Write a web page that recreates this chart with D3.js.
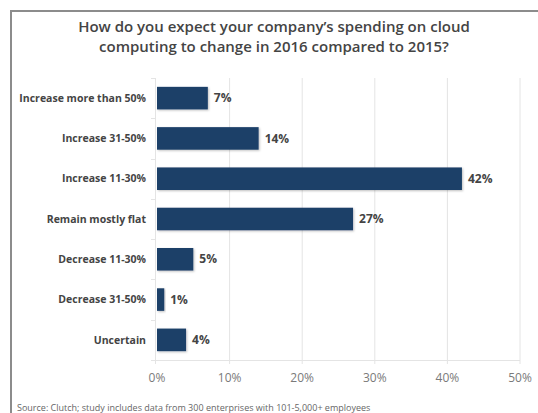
<!DOCTYPE html>
<html>
<head>
<meta charset="utf-8">
<script src="https://cdn.jsdelivr.net/npm/d3@7"></script>
<style>
  html, body { margin: 0; padding: 0; background: #fff; }
  svg { display: block; font-family: "Open Sans", sans-serif; }
</style>
</head>
<body>
<svg id="chart" width="538" height="413"></svg>
<script>
// Survey answers and their share of respondents (%)
const categories = [
  "Increase more than 50%",
  "Increase 31-50%",
  "Increase 11-30%",
  "Remain mostly flat",
  "Decrease 11-30%",
  "Decrease 31-50%",
  "Uncertain"
];
const values = [7, 14, 42, 27, 5, 1, 4];
const xTicks = [0, 10, 20, 30, 40, 50];
const titleLines = [
  "How do you expect your company\u2019s spending on cloud",
  "computing to change in 2016 compared to 2015?"
];
const sourceNote = "Source: Clutch; study includes data from 300 enterprises with 101-5,000+ employees";

const svg = d3.select("#chart");

// Outer frame (top and left edges visible)
svg.append("path")
  .attr("d", "M11,413 V11 H538")
  .attr("fill", "none")
  .attr("stroke", "#8c8c8c")
  .attr("stroke-width", 2);

// Title
svg.append("g").selectAll("text")
  .data(titleLines)
  .join("text")
  .attr("x", 274)
  .attr("y", (d, i) => 32 + i * 20)
  .attr("text-anchor", "middle")
  .attr("font-size", 15)
  .attr("font-weight", 600)
  .attr("fill", "#444")
  .text(d => d);

const x = d3.scaleLinear().domain([0, 50]).range([157, 520]);
const y = d3.scaleBand().domain(categories).range([78, 360])
  .paddingInner(0.44).paddingOuter(0.22);

const grid = "#e4e4e4";

// Vertical gridlines with small ticks below the axis
const gx = svg.append("g");
gx.selectAll("line.grid")
  .data(xTicks.slice(1))
  .join("line")
  .attr("class", "grid")
  .attr("x1", d => x(d)).attr("x2", d => x(d))
  .attr("y1", 78).attr("y2", 364)
  .attr("stroke", grid).attr("stroke-width", 1);

// Horizontal baseline
gx.append("line")
  .attr("x1", 155).attr("x2", x(50))
  .attr("y1", 360.5).attr("y2", 360.5)
  .attr("stroke", grid);

// Category axis: line plus ticks at band boundaries
const gy = svg.append("g");
gy.append("line")
  .attr("x1", 155.5).attr("x2", 155.5)
  .attr("y1", 78).attr("y2", 364)
  .attr("stroke", grid);
const bounds = d3.range(categories.length + 1).map(i => 78 + i * (282 / categories.length));
gy.selectAll("line.tick")
  .data(bounds)
  .join("line")
  .attr("class", "tick")
  .attr("x1", 151).attr("x2", 155.5)
  .attr("y1", d => Math.round(d) + 0.5).attr("y2", d => Math.round(d) + 0.5)
  .attr("stroke", grid);

// Category labels
gy.selectAll("text")
  .data(categories)
  .join("text")
  .attr("x", 146)
  .attr("y", d => y(d) + y.bandwidth() / 2)
  .attr("dy", "0.35em")
  .attr("text-anchor", "end")
  .attr("font-size", 10.5)
  .attr("font-weight", 700)
  .attr("fill", "#444")
  .text(d => d);

// X tick labels
gx.selectAll("text")
  .data(xTicks)
  .join("text")
  .attr("x", d => x(d))
  .attr("y", 382)
  .attr("text-anchor", "middle")
  .attr("font-size", 12)
  .attr("fill", "#7a7a7a")
  .text(d => d + "%");

// Soft shadow for bars
const defs = svg.append("defs");
const f = defs.append("filter").attr("id", "shadow")
  .attr("x", "-10%").attr("y", "-20%").attr("width", "130%").attr("height", "150%");
f.append("feDropShadow")
  .attr("dx", 1).attr("dy", 1).attr("stdDeviation", 1)
  .attr("flood-color", "#000").attr("flood-opacity", 0.25);

const rows = categories.map((c, i) => ({ c, v: values[i] }));

// Bars
svg.append("g").selectAll("rect")
  .data(rows)
  .join("rect")
  .attr("x", x(0))
  .attr("y", d => y(d.c))
  .attr("width", d => x(d.v) - x(0))
  .attr("height", y.bandwidth())
  .attr("fill", "#1b3f68")
  .attr("filter", "url(#shadow)");

// Value labels
svg.append("g").selectAll("text")
  .data(rows)
  .join("text")
  .attr("x", d => x(d.v) + 6)
  .attr("y", d => y(d.c) + y.bandwidth() / 2)
  .attr("dy", "0.35em")
  .attr("font-size", 12)
  .attr("font-weight", 700)
  .attr("fill", "#444")
  .text(d => d.v + "%");

// Source note
svg.append("text")
  .attr("x", 17)
  .attr("y", 411)
  .attr("font-size", 9)
  .attr("fill", "#666")
  .text(sourceNote);
</script>
</body>
</html>
